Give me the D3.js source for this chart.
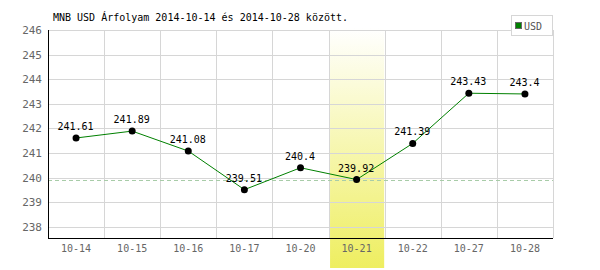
<!DOCTYPE html>
<html>
<head>
<meta charset="utf-8">
<script src="https://cdn.jsdelivr.net/npm/d3@7"></script>
<style>
  body { margin: 0; background: #fff; }
  text { font-family: "DejaVu Sans Mono", monospace; }
</style>
</head>
<body>
<svg width="600" height="270"></svg>
<script>
const dates = ["10-14", "10-15", "10-16", "10-17", "10-20", "10-21", "10-22", "10-27", "10-28"];
const rates = [241.61, 241.89, 241.08, 239.51, 240.4, 239.92, 241.39, 243.43, 243.4];
const yTicks = [238, 239, 240, 241, 242, 243, 244, 245, 246];
const highlight = "10-21";
const title = "MNB USD Árfolyam 2014-10-14 és 2014-10-28 között.";

const svg = d3.select("svg");
const plotL = 48, plotR = 553, plotT = 30, plotB = 238;

const x = d3.scaleBand().domain(dates).range([plotL, plotR]);
const y = d3.scaleLinear().domain([238, 246]).range([226.8, plotT]);

// highlight band gradient
const grad = svg.append("defs").append("linearGradient")
    .attr("id", "hl").attr("x1", 0).attr("y1", 0).attr("x2", 0).attr("y2", 1);
grad.append("stop").attr("offset", 0).attr("stop-color", "#ffffff");
grad.append("stop").attr("offset", 1).attr("stop-color", "#eeee60");

svg.append("rect")
    .attr("x", x(highlight) + 1.5)
    .attr("y", 28)
    .attr("width", x.bandwidth() - 2)
    .attr("height", 240)
    .attr("fill", "url(#hl)");

// grid
const grid = svg.append("g").attr("stroke", "#d6d6d6").attr("stroke-width", 1);
grid.selectAll("line.h")
    .data(yTicks)
    .join("line")
    .attr("class", "h")
    .attr("x1", plotL).attr("x2", plotR)
    .attr("y1", d => Math.round(y(d)) + 0.5)
    .attr("y2", d => Math.round(y(d)) + 0.5);
grid.selectAll("line.v")
    .data(dates)
    .join("line")
    .attr("class", "v")
    .attr("x1", d => Math.round(x(d) + x.bandwidth()) + 0.5)
    .attr("x2", d => Math.round(x(d) + x.bandwidth()) + 0.5)
    .attr("y1", plotT).attr("y2", plotB);

// reference line at highlighted value
const refVal = rates[dates.indexOf(highlight)];
svg.append("line")
    .attr("x1", plotL).attr("x2", plotR)
    .attr("y1", Math.round(y(refVal)) + 0.5)
    .attr("y2", Math.round(y(refVal)) + 0.5)
    .attr("stroke", "#a8cca8")
    .attr("stroke-dasharray", "4,3");

// axes
svg.append("line")
    .attr("x1", plotL + 0.5).attr("x2", plotL + 0.5)
    .attr("y1", plotT).attr("y2", plotB + 1)
    .attr("stroke", "#000");
svg.append("line")
    .attr("x1", plotL).attr("x2", plotR)
    .attr("y1", plotB + 0.5).attr("y2", plotB + 0.5)
    .attr("stroke", "#000");

svg.append("g").selectAll("text")
    .data(yTicks)
    .join("text")
    .attr("x", 42)
    .attr("y", d => y(d) + 4)
    .attr("text-anchor", "end")
    .attr("font-size", 11)
    .attr("fill", "#666")
    .text(d => d);

svg.append("g").selectAll("text")
    .data(dates)
    .join("text")
    .attr("x", d => x(d) + x.bandwidth() / 2)
    .attr("y", 252)
    .attr("text-anchor", "middle")
    .attr("font-size", 10)
    .attr("fill", "#666")
    .text(d => d);

// series
const pts = dates.map((d, i) => ({d, v: rates[i]}));
svg.append("path")
    .datum(pts)
    .attr("fill", "none")
    .attr("stroke", "#008000")
    .attr("stroke-width", 1)
    .attr("d", d3.line().x(p => x(p.d) + x.bandwidth() / 2).y(p => y(p.v)));

svg.append("g").selectAll("circle")
    .data(pts)
    .join("circle")
    .attr("cx", p => x(p.d) + x.bandwidth() / 2)
    .attr("cy", p => y(p.v))
    .attr("r", 3.5)
    .attr("fill", "#000");

svg.append("g").selectAll("text")
    .data(pts)
    .join("text")
    .attr("x", p => x(p.d) + x.bandwidth() / 2 - 0.5)
    .attr("y", p => y(p.v) - 8)
    .attr("text-anchor", "middle")
    .attr("font-size", 10)
    .attr("fill", "#000")
    .text(p => p.v);

// title
svg.append("text")
    .attr("x", 53).attr("y", 21)
    .attr("font-size", 10)
    .attr("fill", "#000")
    .text(title);

// legend
svg.append("rect")
    .attr("x", 511.5).attr("y", 15.5).attr("width", 41).attr("height", 20)
    .attr("fill", "#fff").attr("stroke", "#d6d6d6");
svg.append("rect")
    .attr("x", 515.5).attr("y", 22.5).attr("width", 6).attr("height", 6)
    .attr("fill", "#008000").attr("stroke", "#666");
svg.append("text")
    .attr("x", 524).attr("y", 30)
    .attr("font-family", "DejaVu Sans")
    .attr("font-size", 10)
    .attr("fill", "#555")
    .text("USD");
</script>
</body>
</html>
